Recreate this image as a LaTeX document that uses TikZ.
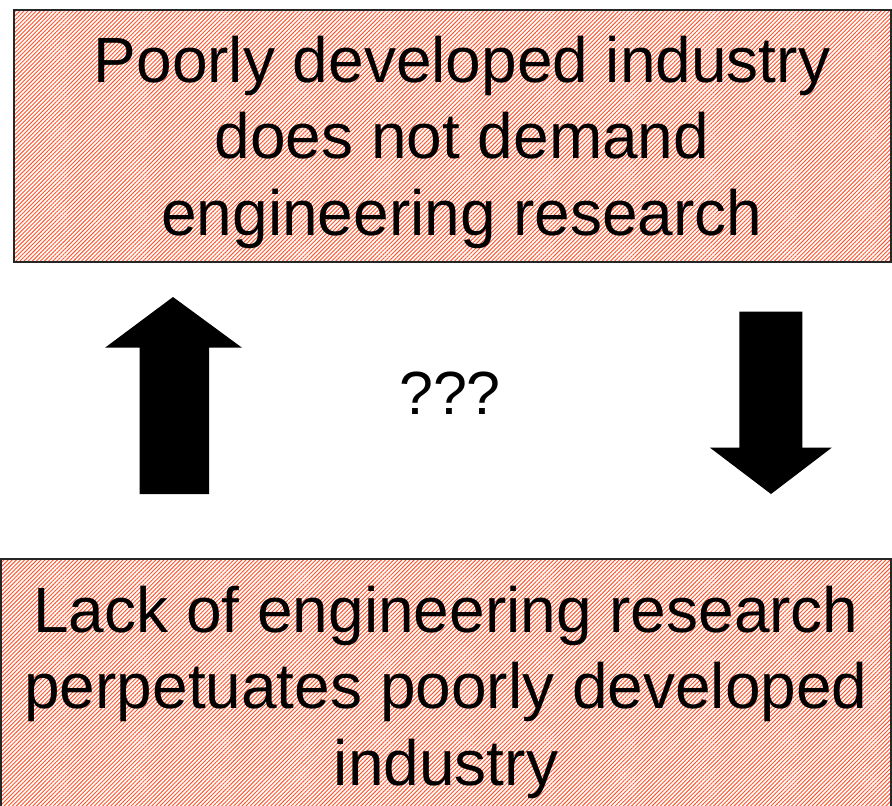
\documentclass[tikz,border=0pt]{standalone}
\usepackage{fontspec}
\setmainfont{Liberation Sans}
\usepackage{tikz}
\usetikzlibrary{patterns.meta}
\definecolor{hatchred}{RGB}{255,85,45}

\begin{document}
\begin{tikzpicture}[
    x=1pt, y=-1pt,
    hatched box/.style={fill=white, postaction={pattern={Lines[angle=45, distance=2.9pt, line width=0.95pt]}, pattern color=hatchred}},
    box line/.style={line width=1.6pt, draw=black!85},
    big text/.style={align=center, anchor=base, font=\fontsize{64}{76.3}\selectfont},
    block arrow/.style={fill=black},
    every node/.style={color=black}
    ]
    \useasboundingbox (0,0) rectangle (892,806);
    % Boxes
    \path[hatched box] (14,10) rectangle (891,262);
    \draw[box line] (14,10) rectangle (891,262);
    \path[hatched box] (1,559) rectangle (891,806);
    \draw[box line] (1,806) -- (1,559) -- (891,559) -- (891,806);
    % Texts
    \node[big text] (topnode) at (462,235)
        {Poorly developed industry\\does not demand\\engineering research};
    \node[big text] (bottomnode) at (446,785)
        {Lack of engineering research\\perpetuates poorly developed\\industry};
    \node[anchor=base, font=\fontsize{61}{70}\selectfont] (qmark) at (450,414) {???};
    % Arrows
    \fill[block arrow] (173,297) -- (242,347.7) -- (209,347.7) -- (209,494)
        -- (139.5,494) -- (139.5,347.7) -- (105,347.7) -- cycle;
    \fill[block arrow] (771,494) -- (831.7,447.7) -- (802.3,447.7) -- (802.3,311.7)
        -- (739.3,311.7) -- (739.3,447.7) -- (710,447.7) -- cycle;
\end{tikzpicture}
\end{document}
